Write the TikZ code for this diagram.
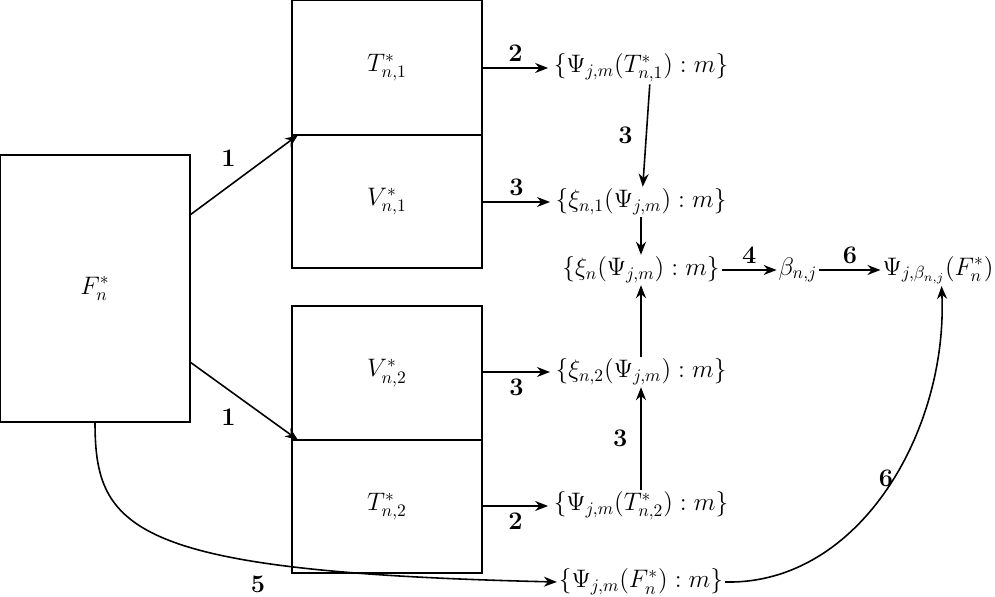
\documentclass[tikz,border=0pt]{standalone}
\usepackage{amsmath,amssymb}
\usetikzlibrary{arrows.meta}
\begin{document}
\begin{tikzpicture}[x=0.02cm,y=-0.02cm,
  bx/.style={draw,line width=1pt,inner sep=0pt,font=\Large},
  arr/.style={-{Stealth[length=2.6mm,width=2mm]},line width=0.9pt},
  lab/.style={font=\bfseries\Large},
  txt/.style={font=\Large,inner sep=1pt}]
\useasboundingbox (0,0) rectangle (995,597);
\node[bx,minimum width=3.8cm,minimum height=5.34cm] (F) at (95,288.5) {$F_n^*$};
\node[bx,minimum width=3.8cm,minimum height=2.7cm] (T1) at (387,67.5) {$T_{n,1}^*$};
\node[bx,minimum width=3.8cm,minimum height=2.66cm] (V1) at (387,201.5) {$V_{n,1}^*$};
\node[bx,minimum width=3.8cm,minimum height=2.68cm] (V2) at (387,373) {$V_{n,2}^*$};
\node[bx,minimum width=3.8cm,minimum height=2.66cm] (T2) at (387,506.5) {$T_{n,2}^*$};
\node[txt] (a1) at (641,68) {$\{\Psi_{j,m}(T_{n,1}^*):m\}$};
\node[txt] (a2) at (641,202) {$\{\xi_{n,1}(\Psi_{j,m}):m\}$};
\node[txt] (a3) at (641,270) {$\{\xi_{n}(\Psi_{j,m}):m\}$};
\node[txt] (a4) at (641,372) {$\{\xi_{n,2}(\Psi_{j,m}):m\}$};
\node[txt] (a5) at (641,506) {$\{\Psi_{j,m}(T_{n,2}^*):m\}$};
\node[txt] (a6) at (641,582) {$\{\Psi_{j,m}(F_n^*):m\}$};
\node[txt] (b) at (798,270) {$\beta_{n,j}$};
\node[txt] (c) at (938,270) {$\Psi_{j,\beta_{n,j}}(F_n^*)$};
\coordinate (f1) at (190,215); \coordinate (f2) at (190,362);
\coordinate (t1) at (298,135); \coordinate (t2) at (298,440);
\coordinate (fb) at (95,422);
\draw[arr] (f1) -- (t1) node[lab,midway,above left=1pt] {1};
\draw[arr] (f2) -- (t2) node[lab,midway,below left=1pt] {1};
\draw[arr] (T1.east|-a1) -- ([xshift=-2]a1.west) node[lab,midway,above] {2};
\draw[arr] (V1.east|-a2) -- ([xshift=-2]a2.west) node[lab,midway,above] {3};
\draw[arr] (V2.east|-a4) -- ([xshift=-2]a4.west) node[lab,midway,below] {3};
\draw[arr] (T2.east|-a5) -- ([xshift=-2]a5.west) node[lab,midway,below] {2};
\draw[arr] ([xshift=5]a1.south) -- ([xshift=1]a2.north) node[lab,midway,left=4pt] {3};
\draw[arr] (a2.south) -- (a3.north);
\draw[arr] (a4.north) -- (a3.south);
\draw[arr] (a5.north) -- (a4.south) node[lab,midway,left=4pt] {3};
\draw[arr] (a3.east) -- (b.west) node[lab,midway,above] {4};
\draw[arr] (b.east) -- (c.west) node[lab,midway,above] {6};
\draw[arr] (fb) .. controls (95,530) and (130,572) .. (a6.west);
\node[lab] (l5) at (258,584) {5};
\draw[arr] (a6.east) .. controls (860,585) and (948,430) .. ([xshift=2]c.south);
\node[lab] (l6) at (886,478) {6};
\end{tikzpicture}
\end{document}
